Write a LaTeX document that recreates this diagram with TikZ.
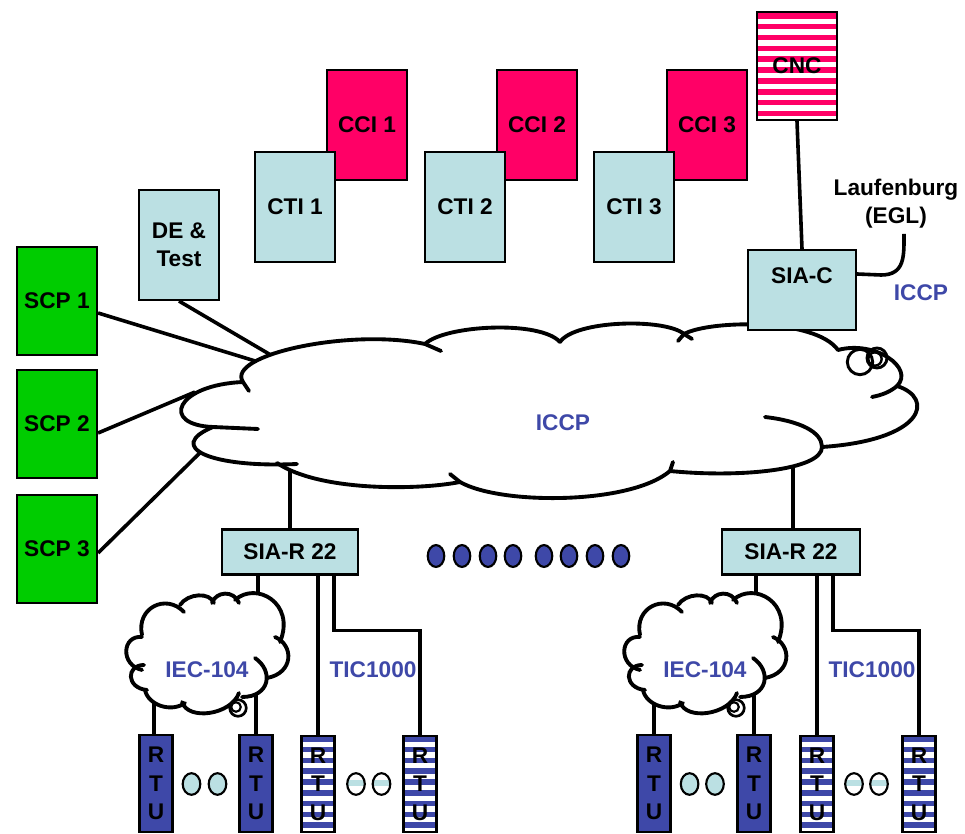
\documentclass[tikz,border=0pt]{standalone}
\usepackage{fontspec}
\setmainfont{Liberation Sans}
\usetikzlibrary{calc}
\pgfdeclarelayer{wires}
\pgfdeclarelayer{clouds}
\pgfsetlayers{wires,clouds,main}
\definecolor{paleblue}{HTML}{BBE0E3}
\definecolor{scpgreen}{HTML}{00CC00}
\definecolor{hotpink}{HTML}{FF0066}
\definecolor{navy}{HTML}{3E48A8}
\tikzset{
  sz/.style 2 args={minimum width=#1*0.75pt, minimum height=#2*0.75pt, inner sep=0pt},
  bold/.style={font=\fontsize{17}{21}\selectfont\bfseries},
  unit/.style={draw=black, line width=1.6pt, bold, align=center},
  scp/.style={unit, fill=scpgreen, sz={80}{108}},
  pale/.style={unit, fill=paleblue},
  cci/.style={unit, fill=hotpink, sz={80}{110}},
  cnc/.style={unit, fill=white, sz={80}{108}, path picture={
      \foreach \i in {0,...,9}
        \fill[hotpink] ($(path picture bounding box.north west)+(0,1+\i*10.85)$) rectangle ++(80,5.6);}},
  rtu/.style={unit, sz={33}{97}, font=\fontsize{17}{21.5}\selectfont\bfseries},
  rtusolid/.style={rtu, fill=navy},
  rtustriped/.style={rtu, fill=white, sz={33}{96}, path picture={
      \foreach \i in {0,...,8}
        \fill[navy] ($(path picture bounding box.north west)+(0,\i*10.8)$) rectangle ++(33,5.6);}},
  link/.style={line width=2.7pt},
  rim/.style={line width=2.9pt, line cap=round},
  note/.style={bold, text=navy},
  dot/.style={draw=black, line width=1.6pt, fill=navy},
  % small IEC-104 cloud, drawn round its centre
  iec/.pic={
    \fill[white] (-64,-18) .. controls (-70,-45) and (-40,-60) .. (-22,-41)
      -- (-26,-48) .. controls (-18,-60) and (4,-61) .. (8,-50)
      -- (6,-50) .. controls (10,-62) and (28,-63) .. (33,-50)
      -- (29,-53) .. controls (50,-72) and (90,-50) .. (74,-11)
      -- (69,-16) .. controls (88,-8) and (88,20) .. (61,25)
      -- (49,5) .. controls (68,18) and (64,44) .. (36,44)
      -- (33,40) .. controls (25,62) and (-18,68) .. (-24,49)
      -- (-21,50) .. controls (-35,60) and (-58,52) .. (-61,37)
      -- (-59,37) .. controls (-80,35) and (-80,12) .. (-62,12)
      -- (-64,17) .. controls (-86,12) and (-84,-18) .. (-64,-16) -- cycle;
    \draw[rim] (-64,-18) .. controls (-70,-45) and (-40,-60) .. (-22,-41);
    \draw[rim] (-26,-48) .. controls (-18,-60) and (4,-61) .. (8,-50);
    \draw[rim] (6,-50) .. controls (10,-62) and (28,-63) .. (33,-50);
    \draw[rim] (29,-53) .. controls (50,-72) and (90,-50) .. (74,-11);
    \draw[rim] (69,-16) .. controls (88,-8) and (88,20) .. (61,25);
    \draw[rim] (49,5) .. controls (68,18) and (64,44) .. (36,44);
    \draw[rim] (33,40) .. controls (25,62) and (-18,68) .. (-24,49);
    \draw[rim] (-21,50) .. controls (-35,60) and (-58,52) .. (-61,37);
    \draw[rim] (-59,37) .. controls (-80,35) and (-80,12) .. (-62,12);
    \draw[rim] (-64,17) .. controls (-86,12) and (-84,-18) .. (-64,-16);
    \filldraw[fill=white, line width=2pt] (32,55) circle[radius=6.2pt];
    \draw[line width=1.6pt] (30,54) circle[radius=3.6pt];
  }
}
\begin{document}
\begin{tikzpicture}[x=0.75pt, y=-0.75pt]
\useasboundingbox (0,0) rectangle (965,834);

% ---- control centres and server nodes
\node[scp] (scp1) at (57,301) {SCP 1};
\node[scp] (scp2) at (57,424) {SCP 2};
\node[scp] (scp3) at (57,549) {SCP 3};
\node[pale, sz={80}{110}] (detest) at (179,245) {DE \&\\Test};
\node[cci] (cci1) at (367,125) {CCI 1};
\node[cci] (cci2) at (537,125) {CCI 2};
\node[cci] (cci3) at (707,125) {CCI 3};
\node[pale, sz={80}{110}] (cti1) at (295,207) {CTI 1};
\node[pale, sz={80}{110}] (cti2) at (465,207) {CTI 2};
\node[pale, sz={80}{110}] (cti3) at (634,207) {CTI 3};
\node[cnc] (cnc) at (797,66) {CNC};
\node[pale, sz={108}{80}] (siac) at (802,290) {};
\node[bold] (siactext) at (802,276) {SIA-C};
\node[bold, align=center] (lauf) at (896,204) {Laufenburg\\(EGL)};
\node[note] (iccpext) at (921,293) {ICCP};
\node[note] (iccp) at (563,423) {ICCP};
\node[pale, sz={136}{45}] (siarL) at (290,552) {SIA-R 22};
\node[pale, sz={138}{45}] (siarR) at (791,552) {SIA-R 22};

% ---- remote terminal units
\node[rtusolid]   (rl1) at (156,783.5) {R\\T\\U};
\node[rtusolid]   (rl2) at (256,783.5) {R\\T\\U};
\node[rtustriped] (rl3) at (318,784) {R\\T\\U};
\node[rtustriped] (rl4) at (420,784) {R\\T\\U};
\node[rtusolid]   (rr1) at (654,783.5) {R\\T\\U};
\node[rtusolid]   (rr2) at (754,783.5) {R\\T\\U};
\node[rtustriped] (rr3) at (817,784) {R\\T\\U};
\node[rtustriped] (rr4) at (919,784) {R\\T\\U};

\node[note] (iecLtxt) at (207,670) {IEC-104};
\node[note] (iecRtxt) at (705,670) {IEC-104};
\node[note] (ticL) at (373,670) {TIC1000};
\node[note] (ticR) at (872,670) {TIC1000};

% ---- ellipsis marks
\foreach \x in {436,462,488,513,544,569,595,621}
  \draw[dot] (\x,556) ellipse[x radius=6.2pt, y radius=8.2pt];
\foreach \x in {191.5,217.5,689.6,715}
  \draw[line width=1.6pt, fill=paleblue] (\x,784) ellipse[x radius=6.6pt, y radius=8.1pt];
\foreach \x in {356,381.5,854,879}{
  \fill[white] (\x,784) ellipse[x radius=6.6pt, y radius=8.1pt];
  \begin{scope}
    \clip (\x,784) ellipse[x radius=6.6pt, y radius=8.1pt];
    \fill[paleblue] (\x-12,780) rectangle (\x+12,786);
  \end{scope}
  \draw[line width=1.6pt] (\x,784) ellipse[x radius=6.6pt, y radius=8.1pt];
}

% ---- connectors
\begin{pgfonlayer}{wires}
  \coordinate (inScp1) at (265,364);
  \coordinate (inScp2) at (195,392);
  \coordinate (inScp3) at (212,441);
  \coordinate (inDe) at (281,361);
  \coordinate (laufend) at (904,234);
  \draw[link] ($(scp1.east)+(0,12)$) -- (inScp1);
  \draw[link] ($(scp2.east)+(0,9)$) -- (inScp2);
  \draw[link] ($(scp3.east)+(0,4)$) -- (inScp3);
  \draw[link] (detest.south) -- (inDe);
  \foreach \n in {cti1,cti2,cti3,cci1,cci2,cci3}
    \draw[link] ($(\n.south)+(-2,0)$) -- ($(\n.south)+(-2,0)$ |- 0,365);
  \draw[link] (cnc.south) -- (siac.north);
  \draw[link] ($(siac.east)+(0,-16)$) -- ++(24,1) .. controls +(24,0) and +(0,22) .. (laufend);
  \draw[link] (siarL.north) -- ++(0,-75);
  \draw[link] ($(siarR.north)+(2,0)$) -- ++(0,-75);
  % left substation
  \draw[link] ($(siarL.south west)+(37,0)$) -- ++(0,45);
  \draw[link] (siarL.south -| rl3.north) -- (rl3.north);
  \draw[link] ($(siarL.south west)+(113,0)$) -- ++(0,55) -| (rl4.north);
  \draw[link] ($(rl1.north)+(-2,0)$) -- ++(0,-50);
  \draw[link] (rl2.north) -- ++(0,-55);
  % right substation
  \draw[link] ($(siarR.south west)+(35,0)$) -- ++(0,45);
  \draw[link] (siarR.south -| rr3.north) -- (rr3.north);
  \draw[link] ($(siarR.south west)+(112,0)$) -- ++(0,55) -| (rr4.north);
  \draw[link] (rr1.north) -- ++(0,-50);
  \draw[link] (rr2.north) -- ++(0,-55);
\end{pgfonlayer}

% ---- clouds
\begin{pgfonlayer}{clouds}
  \fill[white] (243,382) .. controls (225,355) and (350,328) .. (425,344)
    .. controls (445,325) and (540,320) .. (560,342)
    .. controls (575,320) and (665,318) .. (684,334)
    .. controls (710,320) and (815,318) .. (838,350)
    .. controls (875,340) and (915,368) .. (897,386)
    .. controls (935,398) and (925,440) .. (822,447)
    .. controls (822,470) and (740,478) .. (670,471)
    .. controls (630,505) and (500,505) .. (460,482)
    .. controls (420,490) and (320,492) .. (277,463)
    .. controls (210,468) and (165,447) .. (213,427)
    .. controls (160,425) and (175,385) .. (243,382) -- cycle;
  \draw[rim] (249,391) -- (243,382) .. controls (225,355) and (350,328) .. (425,344) -- (441,351);
  \draw[rim] (425,344) .. controls (445,325) and (540,320) .. (560,342);
  \draw[rim] (560,342) .. controls (575,320) and (665,318) .. (684,334) -- (692,339);
  \draw[rim] (678,341) -- (684,334) .. controls (710,320) and (815,318) .. (838,350);
  \draw[rim] (838,350) .. controls (875,340) and (915,368) .. (897,386)
    .. controls (890,392) and (882,395) .. (872,397);
  \draw[rim] (897,386) .. controls (935,398) and (925,440) .. (822,447);
  \draw[rim] (765,417) .. controls (800,421) and (822,432) .. (822,447)
    .. controls (822,470) and (740,478) .. (670,471);
  \draw[rim] (673,462) -- (670,471) .. controls (630,505) and (500,505) .. (460,482) -- (450,474);
  \draw[rim] (460,482) .. controls (420,490) and (320,492) .. (277,463);
  \draw[rim] (297,464) .. controls (210,468) and (165,447) .. (213,427);
  \draw[rim] (258,429) -- (213,427) .. controls (160,425) and (175,385) .. (243,382);
  \draw[line width=2.2pt] (860,362) circle[radius=9.5pt];
  \draw[line width=2.2pt] (877,358) circle[radius=7.5pt];
  \draw[line width=1.8pt] (875,359) circle[radius=5pt];

  \pic at (206,653) {iec};
  \pic at (704,653) {iec};
\end{pgfonlayer}
\end{tikzpicture}
\end{document}
